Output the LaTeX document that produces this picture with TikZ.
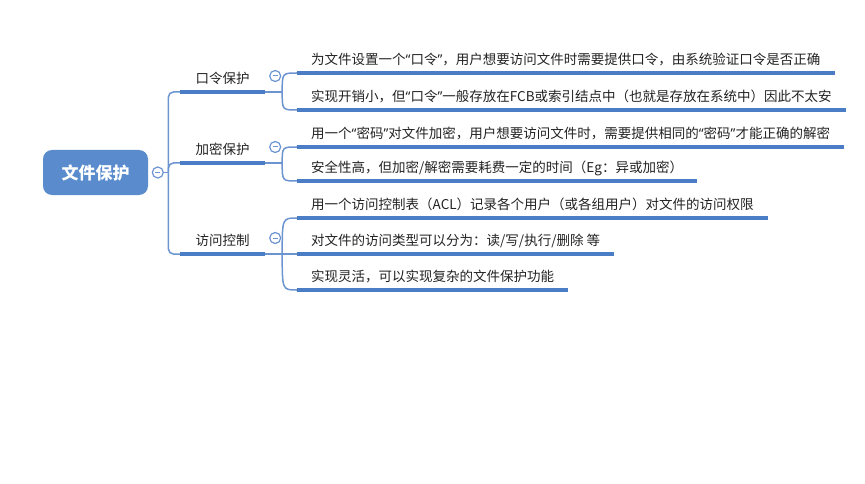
\documentclass[tikz,border=0pt]{standalone}
\usepackage{fontspec}
\setmainfont{Noto Sans CJK SC}
\newfontfamily\quotefont{Noto Sans}
\newcommand{\qopen}{{\quotefont “}}
\newcommand{\qclose}{{\quotefont ”}}
\usetikzlibrary{positioning}
\definecolor{mapblue}{RGB}{74,125,198}
\definecolor{linkblue}{RGB}{108,148,208}
\definecolor{rootblue}{RGB}{90,140,205}
\definecolor{inktext}{RGB}{34,34,34}

\begin{document}
\begin{tikzpicture}[
  x=1pt, y=-1pt,
  txt/.style={font=\fontsize{13.5}{16}\selectfont, text=inktext, text depth=0pt, inner ysep=8.5pt},
  rootbox/.style={fill=rootblue, rounded corners=9pt, minimum width=105pt, minimum height=45pt, text=white, font=\fontsize{17}{20}\selectfont\bfseries},
  branch/.style={txt, anchor=south, minimum width=85pt, inner xsep=0pt},
  leaf/.style={txt, anchor=south west, inner xsep=14pt},
  btn/.style={circle, draw=linkblue, line width=1.2pt, fill=white, minimum size=11pt, inner sep=0pt,
    path picture={\draw[linkblue, line width=1pt] ([xshift=-2.5pt]path picture bounding box.center) -- ([xshift=2.5pt]path picture bounding box.center);}},
  link/.style={draw=linkblue, line width=1.5pt},
  bar/.style={draw=mapblue, line width=3.5pt},
]
  \useasboundingbox (0,0) rectangle (865,484);
  % root
  \node[rootbox] (rootnode) at (95.5,172.5) {文件保护};
  \node[btn, right=3.5pt of rootnode] (rootbtn) {};
  % branches
  \node[branch] (b1) at (222.5,92) {口令保护};
  \node[branch] (b2) at (222.5,163) {加密保护};
  \node[branch] (b3) at (222.5,254) {访问控制};
  % leaves
  \node[leaf] (c1) at (297,73) {为文件设置一个\qopen 口令\qclose，用户想要访问文件时需要提供口令，由系统验证口令是否正确};
  \node[leaf] (c2) at (297,110) {实现开销小，但\qopen 口令\qclose 一般存放在FCB或索引结点中（也就是存放在系统中）因此不太安};
  \node[leaf] (c3) at (297,147) {用一个\qopen 密码\qclose 对文件加密，用户想要访问文件时，需要提供相同的\qopen 密码\qclose 才能正确的解密};
  \node[leaf] (c4) at (297,181) {安全性高，但加密/解密需要耗费一定的时间（Eg：异或加密）};
  \node[leaf] (c5) at (297,218) {用一个访问控制表（ACL）记录各个用户（或各组用户）对文件的访问权限};
  \node[leaf] (c6) at (297,254) {对文件的访问类型可以分为：读/写/执行/删除 等};
  \node[leaf] (c7) at (297,290) {实现灵活，可以实现复杂的文件保护功能};

  % trunk
  \coordinate (hub) at ([xshift=4.5pt]rootbtn.east);
  \draw[link] (rootbtn.east) -- (hub);
  \foreach \b in {b1,b2,b3}
    \draw[link, rounded corners=5pt] (hub) |- (\b.south west);
  % brackets
  \foreach \b/\v in {b1/v1, b2/v2, b3/v3}
    \draw[link] (\b.south east) -- ++(17,0) coordinate (\v);
  \foreach \v/\c in {v1/c1, v1/c2, v2/c3, v2/c4, v3/c5, v3/c6, v3/c7}
    \draw[link] (\v) .. controls (\v |- \c.south west) .. (\c.south west);
  % underlines
  \foreach \n in {b1,b2,b3,c1,c2,c3,c4,c5,c6,c7}
    \draw[bar] (\n.south west) -- (\n.south east);
  % collapse buttons
  \foreach \b in {b1,b2,b3}
    \node[btn] (\b btn) at ([xshift=10pt, yshift=16pt]\b.south east) {};
\end{tikzpicture}
\end{document}
